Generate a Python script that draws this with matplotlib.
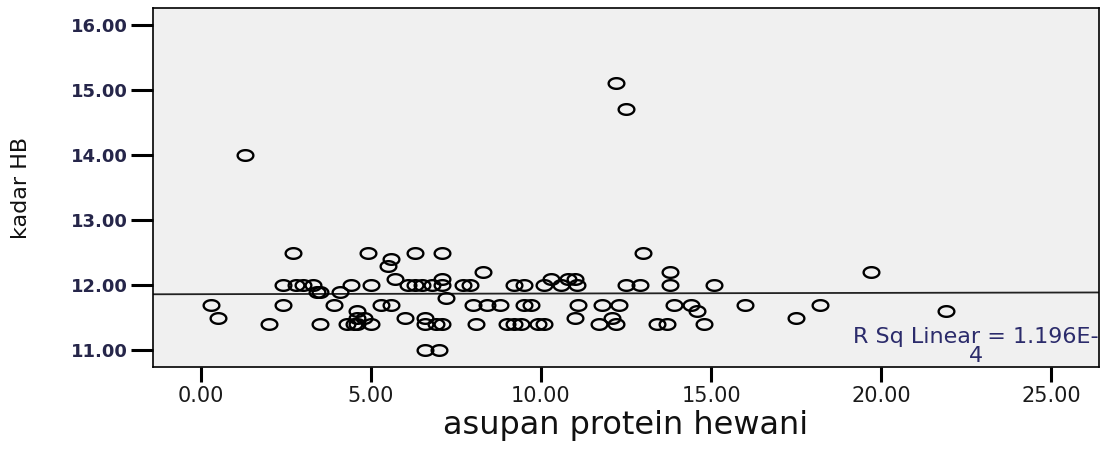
import numpy as np
from matplotlib import pyplot as plt
from matplotlib.path import Path

# asupan protein hewani (x) vs kadar HB (y)
protein = [1.3, 12.2, 12.5, 0.3, 0.5, 2.0, 2.4, 2.4, 2.7, 2.8,
           3.0, 3.3, 3.4, 3.5, 3.5, 3.9, 4.1, 4.3, 4.4, 4.5,
           4.6, 4.6, 4.8, 4.6, 5.0, 4.9, 5.0, 5.3, 5.6, 5.5,
           5.6, 5.7, 6.0, 6.1, 6.3, 6.3, 6.5, 6.6, 6.6, 6.6,
           6.8, 6.9, 7.0, 7.1, 7.1, 7.1, 7.1, 7.2, 7.7, 7.9,
           8.0, 8.1, 8.3, 8.4, 8.8, 9.0, 9.2, 9.4, 9.2, 9.5,
           9.5, 9.7, 9.9, 10.1, 10.1, 10.3, 10.6, 10.8, 11.0, 11.05,
           11.1, 11.0, 11.7, 11.8, 12.1, 12.2, 12.3, 12.5, 12.9, 13.0,
           13.4, 13.7, 13.8, 13.8, 13.9, 14.4, 14.6, 14.8, 15.1, 16.0,
           17.5, 18.2, 19.7, 21.9]
hb = [14.0, 15.1, 14.7, 11.7, 11.5, 11.4, 12.0, 11.7, 12.5, 12.0,
      12.0, 12.0, 11.9, 11.9, 11.4, 11.7, 11.9, 11.4, 12.0, 11.4,
      11.6, 11.5, 11.5, 11.4, 11.4, 12.5, 12.0, 11.7, 11.7, 12.3,
      12.4, 12.1, 11.5, 12.0, 12.0, 12.5, 12.0, 11.5, 11.4, 11.0,
      12.0, 11.4, 11.0, 12.5, 12.1, 12.0, 11.4, 11.8, 12.0, 12.0,
      11.7, 11.4, 12.2, 11.7, 11.7, 11.4, 11.4, 11.4, 12.0, 12.0,
      11.7, 11.7, 11.4, 11.4, 12.0, 12.1, 12.0, 12.1, 12.1, 12.0,
      11.7, 11.5, 11.4, 11.7, 11.5, 11.4, 11.7, 12.0, 12.0, 12.5,
      11.4, 11.4, 12.2, 12.0, 11.7, 11.7, 11.6, 11.4, 12.0, 11.7,
      11.5, 11.7, 12.2, 11.6]

# linear fit line
fit_intercept = 11.86
fit_slope = 0.001
r_sq_text = 'R Sq Linear = 1.196E-\n4'

x_ticks = [0, 5, 10, 15, 20, 25]
y_ticks = [11, 12, 13, 14, 15, 16]

fig = plt.figure(figsize=(11.06, 4.5), dpi=100)
ax = fig.add_axes([0.1383, 0.1844, 0.8554, 0.7978])
ax.set_facecolor('#f0f0f0')

ax.set_xlim(-1.41, 26.41)
ax.set_ylim(10.74, 16.26)

# wide ellipse marker (the picture is stretched sideways)
t = np.linspace(0, 2 * np.pi, 60)
ellipse = Path(np.column_stack([np.cos(t), 0.68 * np.sin(t)]), closed=True)

xs = np.array(ax.get_xlim())
ax.plot(xs, fit_intercept + fit_slope * xs, color='#222222', lw=1.3, zorder=2)
ax.plot(protein, hb, linestyle='none', marker=ellipse, markersize=11.3,
        mfc='none', mec='black', mew=1.7, zorder=3)

ax.text(22.8, 11.05, r_sq_text, ha='center', va='center', multialignment='center',
        fontsize=16, color='#2b2b6b', linespacing=0.95, zorder=4)

ax.set_xticks(x_ticks)
ax.set_xticklabels(['%.2f' % v for v in x_ticks], fontsize=15, color='#1a1a1a')
ax.set_yticks(y_ticks)
ax.set_yticklabels(['%.2f' % v for v in y_ticks], fontsize=13, fontweight='bold',
                   color='#26264a')
ax.tick_params(axis='y', length=15.8, width=2.2, pad=2, direction='out')
ax.tick_params(axis='x', length=10.8, width=2.2, pad=3, direction='out')

for side in ax.spines.values():
    side.set_linewidth(1.2)
    side.set_color('black')

ax.set_xlabel('asupan protein hewani', fontsize=23, color='#111111', labelpad=3)
ax.set_ylabel('kadar HB', fontsize=16, color='#111111', labelpad=29)

fig.savefig('out.png', dpi=100)
